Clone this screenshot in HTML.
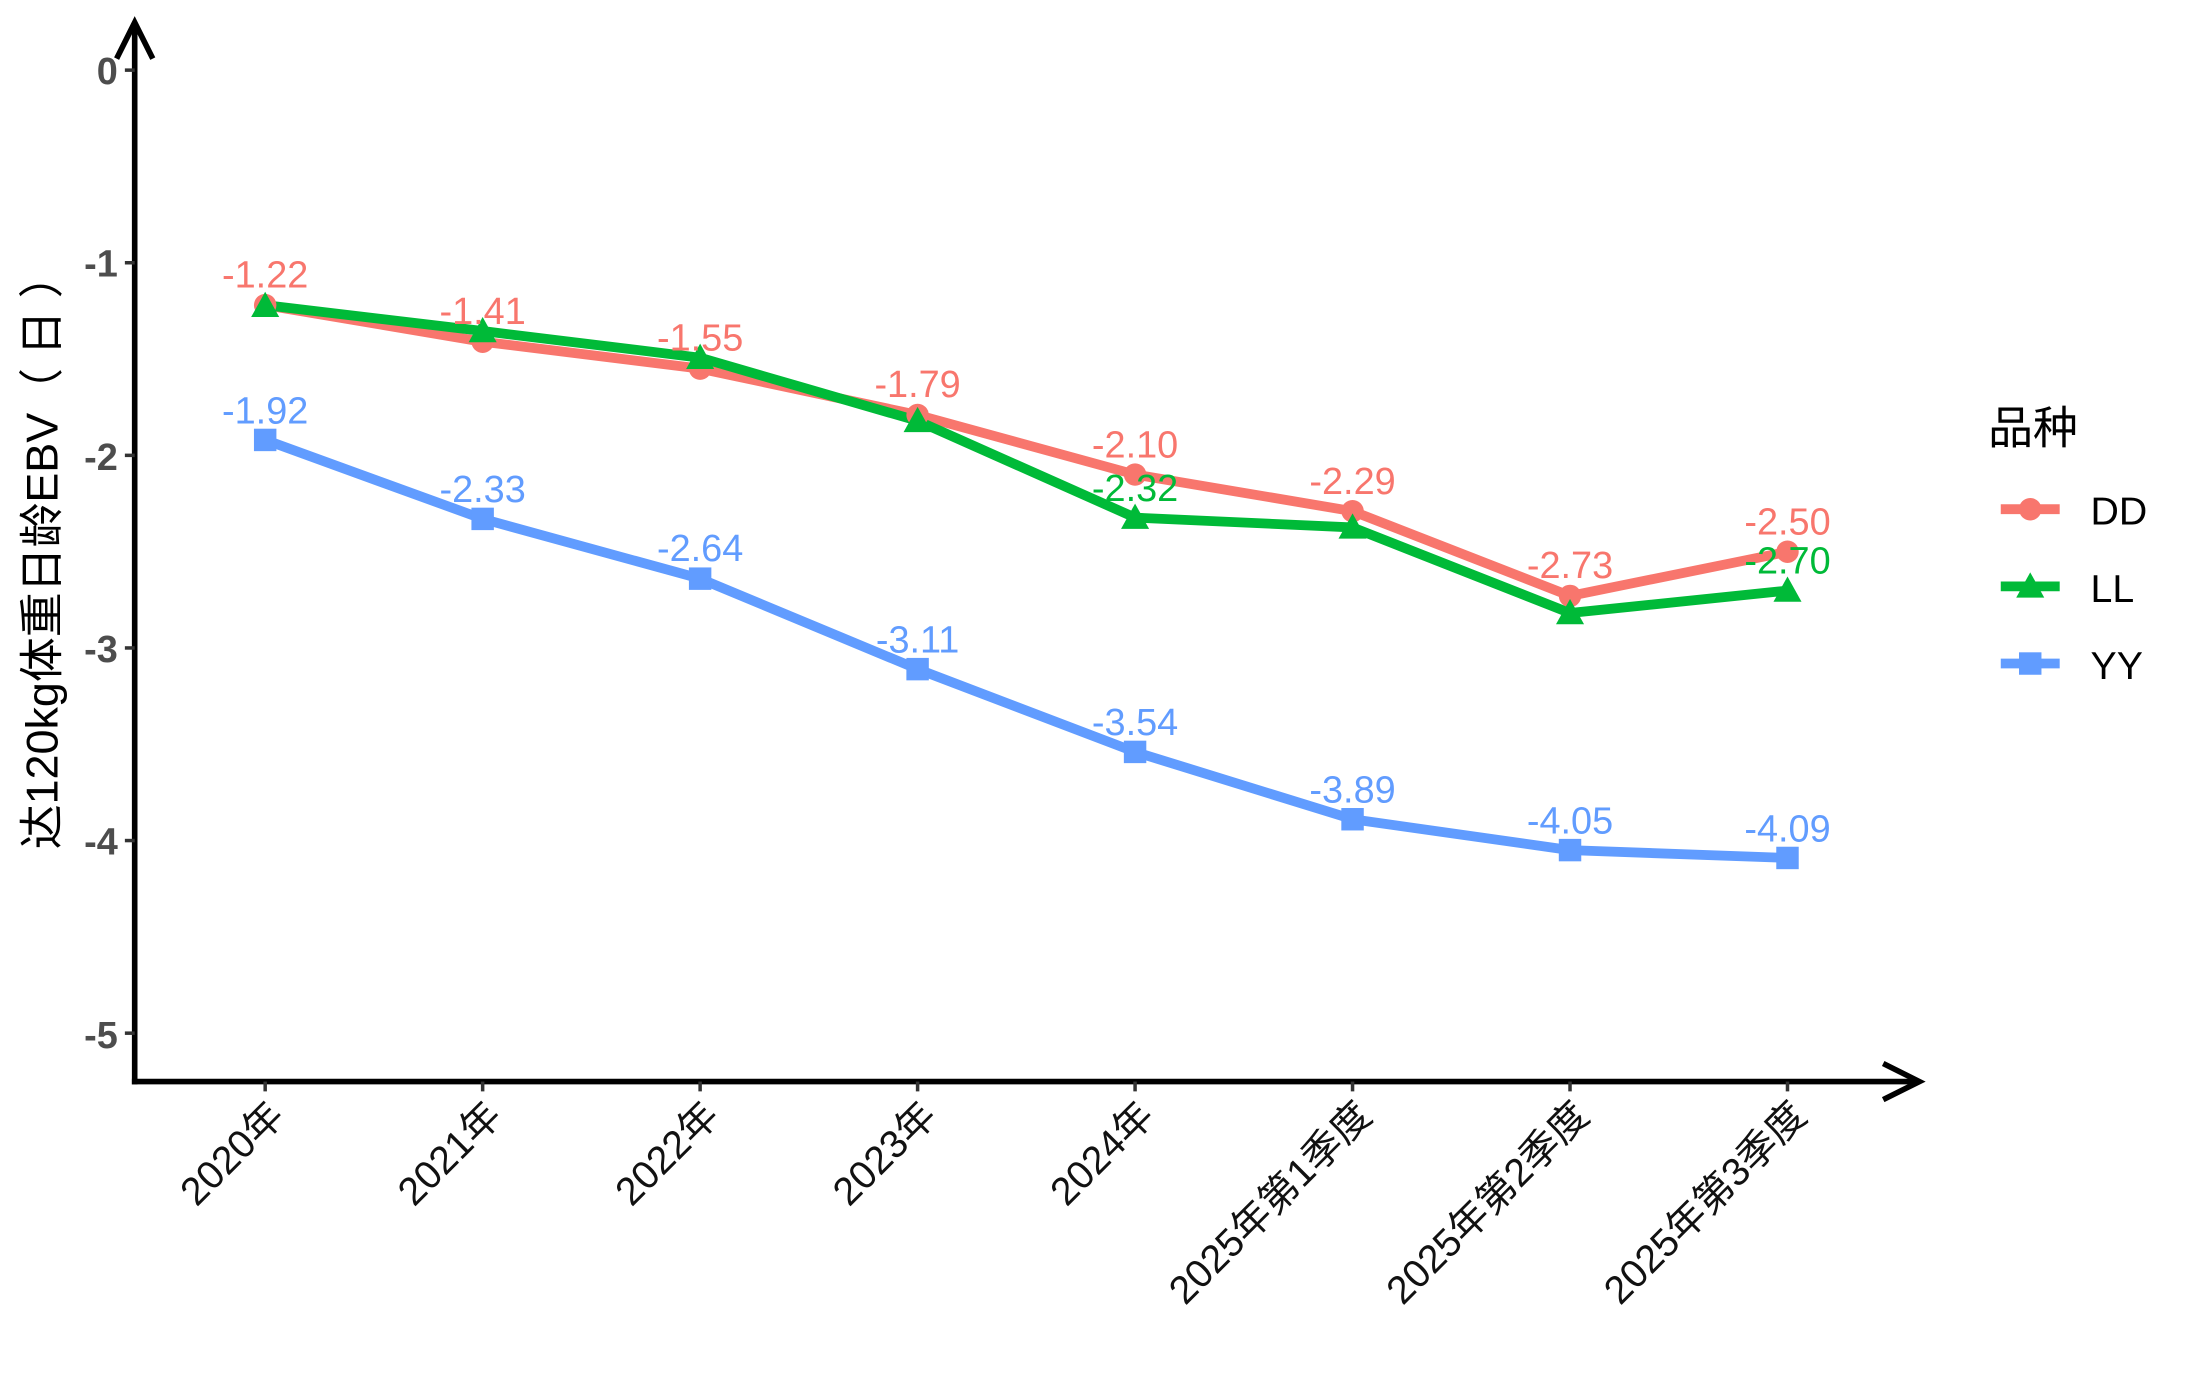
<!DOCTYPE html>
<html><head><meta charset="utf-8"><style>html,body{margin:0;padding:0;background:#fff}svg{display:block}</style></head>
<body>
<svg width="2200" height="1400" viewBox="0 0 1568 998" preserveAspectRatio="none" xmlns="http://www.w3.org/2000/svg" font-family="'Liberation Sans','Noto Sans CJK SC',sans-serif">
<rect width="1568" height="998" fill="#fff"/>
<g stroke="#000" stroke-width="4" fill="none" stroke-linecap="square">
<line x1="96" y1="771" x2="96" y2="18"/>
<polyline points="84,40 96,16 108,40"/>
<line x1="96" y1="771" x2="1366" y2="771"/>
<polyline points="1344,759 1368,771 1344,783"/>
</g>
<g stroke="#333" stroke-width="2.5">
<line x1="89" y1="50" x2="96" y2="50"/><line x1="89" y1="187.3" x2="96" y2="187.3"/><line x1="89" y1="324.6" x2="96" y2="324.6"/><line x1="89" y1="461.9" x2="96" y2="461.9"/><line x1="89" y1="599.2" x2="96" y2="599.2"/><line x1="89" y1="736.5" x2="96" y2="736.5"/>
<line x1="189" y1="771" x2="189" y2="778"/><line x1="344" y1="771" x2="344" y2="778"/><line x1="499" y1="771" x2="499" y2="778"/><line x1="654" y1="771" x2="654" y2="778"/><line x1="809" y1="771" x2="809" y2="778"/><line x1="964" y1="771" x2="964" y2="778"/><line x1="1119" y1="771" x2="1119" y2="778"/><line x1="1274" y1="771" x2="1274" y2="778"/>
</g>
<g font-size="27" font-weight="bold" fill="#4d4d4d" text-anchor="end">
<text x="84" y="60">0</text><text x="84" y="197">-1</text><text x="84" y="335">-2</text><text x="84" y="472">-3</text><text x="84" y="609">-4</text><text x="84" y="747">-5</text>
</g>
<g font-size="28" fill="#111" text-anchor="end">
<text transform="translate(204,797) rotate(-45)">2020年</text>
<text transform="translate(359,797) rotate(-45)">2021年</text>
<text transform="translate(514,797) rotate(-45)">2022年</text>
<text transform="translate(669,797) rotate(-45)">2023年</text>
<text transform="translate(824,797) rotate(-45)">2024年</text>
<text transform="translate(979,797) rotate(-45)">2025年第1季度</text>
<text transform="translate(1134,797) rotate(-45)">2025年第2季度</text>
<text transform="translate(1289,797) rotate(-45)">2025年第3季度</text>
</g>
<text transform="translate(41,393) rotate(-90)" font-size="32" fill="#000" text-anchor="middle">达120kg体重日龄EBV（ 日 ）</text>
<g fill="none" stroke-width="7" stroke-linejoin="round">
<polyline stroke="#F8766D" points="189,217.5 344,243.6 499,262.8 654,295.8 809,338.3 964,364.4 1119,424.8 1274,393.3"/>
<polyline stroke="#00BA38" points="189,217.5 344,236 499,255 654,300 809,369 964,376 1119,437 1274,421"/>
<polyline stroke="#619CFF" points="189,313.6 344,369.9 499,412.5 654,477 809,536 964,584 1119,606 1274,611.6"/>
</g>
<g fill="#F8766D">
<circle cx="189" cy="217.5" r="8"/><circle cx="344" cy="243.6" r="8"/><circle cx="499" cy="262.8" r="8"/><circle cx="654" cy="295.8" r="8"/><circle cx="809" cy="338.3" r="8"/><circle cx="964" cy="364.4" r="8"/><circle cx="1119" cy="424.8" r="8"/><circle cx="1274" cy="393.3" r="8"/>
</g>
<g fill="#00BA38">
<polygon points="189,208 179,226 199,226"/><polygon points="344,226 334,244 354,244"/><polygon points="499,245 489,263 509,263"/><polygon points="654,290 644,308 664,308"/><polygon points="809,359 799,377 819,377"/><polygon points="964,366 954,384 974,384"/><polygon points="1119,427 1109,445 1129,445"/><polygon points="1274,411 1264,429 1284,429"/>
</g>
<g fill="#619CFF">
<rect x="181" y="305.6" width="16" height="16"/><rect x="336" y="361.9" width="16" height="16"/><rect x="491" y="404.5" width="16" height="16"/><rect x="646" y="469" width="16" height="16"/><rect x="801" y="528" width="16" height="16"/><rect x="956" y="576" width="16" height="16"/><rect x="1111" y="598" width="16" height="16"/><rect x="1266" y="603.6" width="16" height="16"/>
</g>
<g font-size="27" text-anchor="middle" fill="#F8766D">
<text x="189" y="205">-1.22</text><text x="344" y="231">-1.41</text><text x="499" y="250">-1.55</text><text x="654" y="283">-1.79</text><text x="809" y="326">-2.10</text><text x="964" y="352">-2.29</text><text x="1119" y="412">-2.73</text><text x="1274" y="381">-2.50</text>
</g>
<g font-size="27" text-anchor="middle" fill="#00BA38">
<text x="809" y="357">-2.32</text><text x="1274" y="409">-2.70</text>
</g>
<g font-size="27" text-anchor="middle" fill="#619CFF">
<text x="189" y="302">-1.92</text><text x="344" y="358">-2.33</text><text x="499" y="400">-2.64</text><text x="654" y="465">-3.11</text><text x="809" y="524">-3.54</text><text x="964" y="572">-3.89</text><text x="1119" y="594">-4.05</text><text x="1274" y="600">-4.09</text>
</g>
<text x="1417" y="316" font-size="32" fill="#000">品种</text>
<g stroke-width="7">
<line x1="1426" y1="363" x2="1468" y2="363" stroke="#F8766D"/>
<line x1="1426" y1="418" x2="1468" y2="418" stroke="#00BA38"/>
<line x1="1426" y1="473" x2="1468" y2="473" stroke="#619CFF"/>
</g>
<circle cx="1447" cy="363" r="8" fill="#F8766D"/>
<polygon points="1447,408 1437,426 1457,426" fill="#00BA38"/>
<rect x="1439" y="465" width="16" height="16" fill="#619CFF"/>
<g font-size="28" fill="#000">
<text x="1490" y="374">DD</text><text x="1490" y="429">LL</text><text x="1490" y="484">YY</text>
</g>
</svg>
</body></html>
